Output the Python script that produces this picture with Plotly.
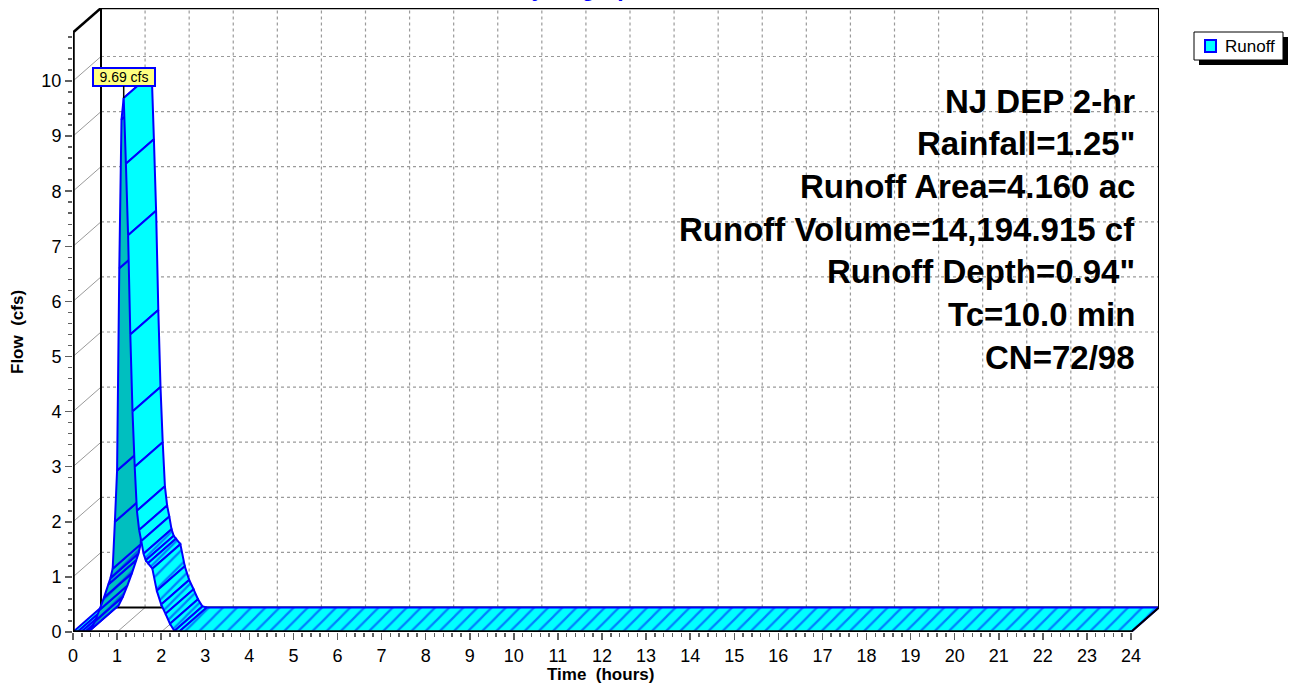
import plotly.graph_objects as go

# ---------------- data ----------------
time_hr = [0.0, 0.1, 0.2, 0.3, 0.4, 0.5, 0.6, 0.7, 0.8, 0.85, 0.9, 0.95, 1.0, 1.05,
           1.1, 1.15, 1.2, 1.25, 1.3, 1.35, 1.4, 1.45, 1.5, 1.55, 1.6, 1.65, 1.7,
           1.8, 1.9, 2.0, 2.1, 2.2, 2.3, 2.4, 24.0]
flow_cfs = [0.0, 0.0, 0.01, 0.02, 0.04, 0.2, 0.4, 0.62, 0.86, 0.98, 1.15, 2.0, 2.93, 6.6,
            9.3, 9.69, 8.5, 7.2, 5.4, 4.0, 3.0, 2.2, 1.85, 1.65, 1.42, 1.3, 1.25,
            1.15, 0.75, 0.5, 0.33, 0.15, 0.02, 0.0, 0.0]
x_tick_vals = list(range(0, 25))
y_tick_vals = list(range(0, 11))
peak_label = "9.69 cfs"
info_lines = ["NJ DEP 2-hr", "Rainfall=1.25\"", "Runoff Area=4.160 ac",
              "Runoff Volume=14,194.915 cf", "Runoff Depth=0.94\"", "Tc=10.0 min", "CN=72/98"]
series_name = "Runoff"
chart_title = "Hydrograph"

# ---------------- geometry ----------------
W, H = 1294, 686
PL, PR, PT, PB = 73, 1159, 8, 632           # plot area in pixels
PX_PER_HR = (1131 - 73) / 24.0
PX_PER_CFS = (632 - 81) / 10.0
XMAX = (PR - PL) / PX_PER_HR
YMAX = (PB - PT) / PX_PER_CFS
DX = 28.0 / PX_PER_HR                        # depth offset (data units)
DY = 24.5 / PX_PER_CFS
YTOP = YMAX - DY
FONT = "Liberation Sans, Arial, sans-serif"


def pxx(px):
    return (px - PL) / (PR - PL)


def pxy(py):
    return (PB - py) / (PB - PT)


fig = go.Figure()

# ---------------- 3D ribbon ----------------
CYAN, TEAL, BLUE = "#00FFFF", "#00BFBF", "#0000FF"
for i in range(len(time_hr) - 1):
    t0, t1 = time_hr[i], time_hr[i + 1]
    v0, v1 = flow_cfs[i], flow_cfs[i + 1]
    cross = (t1 - t0) * PX_PER_HR * 24.5 - (v1 - v0) * PX_PER_CFS * 28.0
    face = CYAN if cross >= 0 else TEAL
    kw = {}
    if max(v0, v1) < 1.6:
        kw["fillpattern"] = dict(shape="/", bgcolor=face, fgcolor=BLUE, size=10, solidity=0.22)
    fig.add_trace(go.Scatter(
        x=[t0, t1, t1 + DX, t0 + DX, t0],
        y=[v0, v1, v1 + DY, v0 + DY, v0],
        mode="lines", fill="toself", fillcolor=face,
        line=dict(color=BLUE, width=2), hoverinfo="skip", showlegend=False, **kw))

# ---------------- frame / grid shapes ----------------
shapes = []
GRID = "#9A9A9A"
for k in x_tick_vals[1:]:
    shapes.append(dict(type="line", xref="x", yref="y", x0=k + DX, x1=k + DX, y0=DY, y1=YMAX,
                       line=dict(color=GRID, width=1.2, dash="dot"), layer="below"))
    if k < 24:
        shapes.append(dict(type="line", xref="x", yref="y", x0=k, x1=k + DX, y0=0, y1=DY,
                           line=dict(color=GRID, width=1), layer="below"))
for k in y_tick_vals[1:]:
    shapes.append(dict(type="line", xref="x", yref="y", x0=DX, x1=XMAX, y0=k + DY, y1=k + DY,
                       line=dict(color=GRID, width=1.2, dash="dot"), layer="below"))
    shapes.append(dict(type="line", xref="x", yref="y", x0=0, x1=DX, y0=k, y1=k + DY,
                       line=dict(color=GRID, width=1), layer="below"))


def seg(x0, y0, x1, y1, w, layer):
    shapes.append(dict(type="line", xref="x", yref="y", x0=x0, y0=y0, x1=x1, y1=y1,
                       line=dict(color="black", width=w), layer=layer))


seg(DX, DY, DX, YMAX, 2, "below")
seg(DX, DY, XMAX, DY, 2, "below")
seg(0, 0, DX, DY, 1, "below")
seg(0, 0, 0, YTOP, 3.5, "above")
seg(0, YTOP, DX, YMAX, 2.5, "above")
seg(DX, YMAX, XMAX, YMAX, 2.5, "above")
seg(XMAX, YMAX, XMAX, DY, 2, "above")
seg(24, 0, XMAX, DY, 2, "above")
seg(0, 0, 24, 0, 3.5, "above")

# ---------------- legend (custom) ----------------
LX0, LY0, LX1, LY1 = 1194, 32, 1283, 60
shapes.append(dict(type="rect", xref="paper", yref="paper", x0=pxx(LX0 + 5), x1=pxx(LX1 + 5),
                   y0=pxy(LY1 + 5), y1=pxy(LY0 + 5), fillcolor="black", line=dict(width=0)))
shapes.append(dict(type="rect", xref="paper", yref="paper", x0=pxx(LX0), x1=pxx(LX1),
                   y0=pxy(LY1), y1=pxy(LY0), fillcolor="white", line=dict(color="black", width=1)))
shapes.append(dict(type="rect", xref="paper", yref="paper", x0=pxx(1205), x1=pxx(1216),
                   y0=pxy(52), y1=pxy(40), fillcolor=CYAN, line=dict(color=BLUE, width=2)))

annotations = [
    dict(xref="paper", yref="paper", x=pxx(1223), y=pxy(46), text=series_name, showarrow=False,
         xanchor="left", yanchor="middle", font=dict(family=FONT, size=17, color="black")),
    dict(xref="x", yref="y", x=time_hr[flow_cfs.index(max(flow_cfs))], y=max(flow_cfs),
         text=peak_label, showarrow=True, arrowhead=0, arrowwidth=1.5, arrowcolor="black",
         ax=0, ay=-21, width=60, height=16, bgcolor="#FFFF80", bordercolor=BLUE,
         borderwidth=2, borderpad=0, font=dict(family=FONT, size=14, color="black")),
    dict(xref="paper", yref="paper", x=pxx(580), y=pxy(-12.5), text="<b>" + chart_title + "</b>",
         showarrow=False, xanchor="center", yanchor="middle",
         font=dict(family=FONT, size=23, color=BLUE)),
    dict(xref="paper", yref="paper", x=pxx(18), y=pxy(332), text="<b>Flow\u00a0 (cfs)</b>",
         textangle=-90, showarrow=False, xanchor="center", yanchor="middle",
         font=dict(family=FONT, size=17, color="black")),
    dict(xref="paper", yref="paper", x=pxx(600), y=pxy(674), text="<b>Time\u00a0 (hours)</b>",
         showarrow=False, xanchor="center", yanchor="middle",
         font=dict(family=FONT, size=17, color="black")),
]
for j, line in enumerate(info_lines):
    annotations.append(dict(xref="paper", yref="paper", x=pxx(1137), y=pxy(101 + j * 42.7),
                            text="<b>" + line + "</b>", showarrow=False, xanchor="right",
                            yanchor="middle", font=dict(family=FONT, size=33, color="black")))

minor_x = [k / 5 for k in range(0, 121) if k % 5 != 0]
minor_y = [k / 5 for k in range(0, 55) if k % 5 != 0]

fig.update_layout(
    width=W, height=H, margin=dict(l=PL, r=W - PR, t=PT, b=H - PB, autoexpand=False),
    paper_bgcolor="white", plot_bgcolor="white", showlegend=False,
    shapes=shapes, annotations=annotations,
    xaxis=dict(range=[0, XMAX], tickvals=x_tick_vals, ticktext=[str(v) for v in x_tick_vals],
               ticks="outside", ticklen=7, tickwidth=1.5, tickcolor="#606060",
               showgrid=False, zeroline=False, showline=False,
               tickfont=dict(family=FONT, size=18, color="black"),
               minor=dict(tickvals=minor_x, ticks="outside", ticklen=4, tickwidth=1.5,
                          tickcolor="#606060", showgrid=False)),
    yaxis=dict(range=[0, YMAX], tickvals=y_tick_vals, ticktext=[str(v) for v in y_tick_vals],
               ticks="outside", ticklen=7, tickwidth=1.5, tickcolor="#606060",
               showgrid=False, zeroline=False, showline=False,
               tickfont=dict(family=FONT, size=18, color="black"),
               minor=dict(tickvals=minor_y, ticks="outside", ticklen=4, tickwidth=1.5,
                          tickcolor="#606060", showgrid=False)),
)

fig.write_html("out.html", config={"displayModeBar": False, "staticPlot": True},
               post_script="document.body.style.margin='0px';document.body.style.overflow='hidden';")
